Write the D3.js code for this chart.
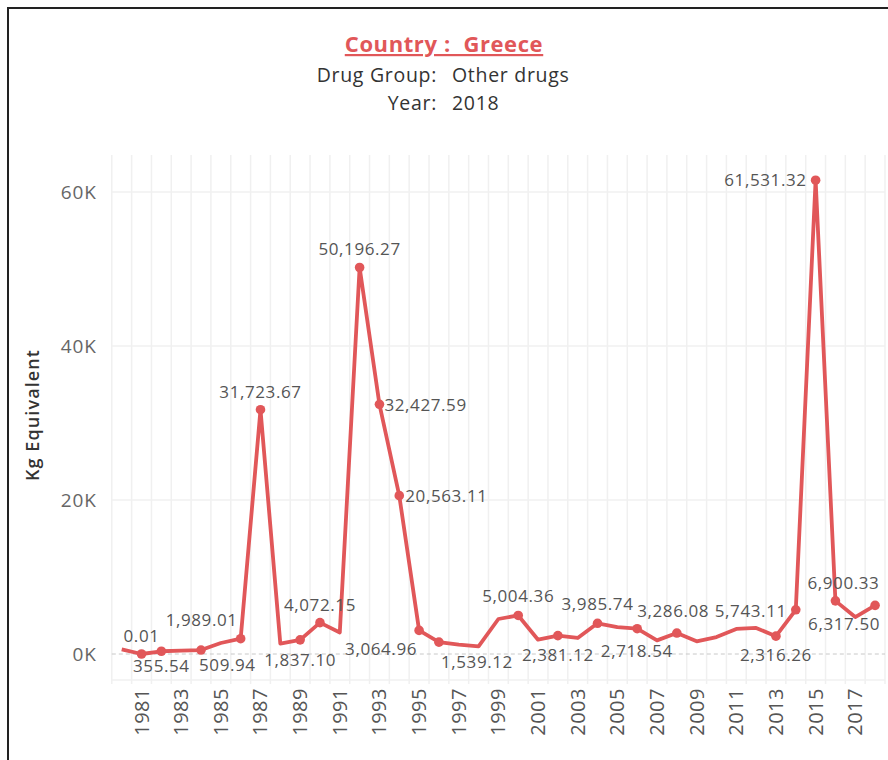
<!DOCTYPE html>
<html>
<head>
<meta charset="utf-8">
<script src="https://cdn.jsdelivr.net/npm/d3@7/dist/d3.min.js"></script>
<style>
  body { margin: 0; background: #fff; }
  svg { display: block; font-family: "Open Sans", "Noto Sans", sans-serif; }
</style>
</head>
<body>
<svg id="chart" width="888" height="760"></svg>
<script>
// data
var years = d3.range(1980, 2019);
var values = [600, 0.01, 355.54, 430, 509.94, 1430, 1989.01, 31723.67, 1340, 1837.10,
  4072.15, 2800, 50196.27, 32427.59, 20563.11, 3064.96, 1539.12, 1210, 990, 4545,
  5004.36, 1860, 2381.12, 2080, 3985.74, 3500, 3286.08, 1770, 2718.54, 1640,
  2200, 3250, 3380, 2316.26, 5743.11, 61531.32, 6900.33, 4800, 6317.50];
var yTicks = [0, 20000, 40000, 60000];
var xTickYears = d3.range(1981, 2018, 2);
var labelledYears = [1981, 1982, 1984, 1986, 1987, 1989, 1990, 1992, 1993, 1994, 1995,
  1996, 2000, 2002, 2004, 2006, 2008, 2013, 2014, 2015, 2016, 2018];

// where each value label sits round its dot: [anchor, dx, dy]
var labelPlace = {
  1981: ["middle", 0, -18], 1982: ["middle", 0, 15], 1984: ["start", -2, 15],
  1986: ["end", -3, -19], 1987: ["middle", 0, -18], 1989: ["middle", 0, 20],
  1990: ["middle", 0, -18], 1992: ["middle", 0, -18], 1993: ["start", 5, 1],
  1994: ["start", 6, 0], 1995: ["end", -2, 19], 1996: ["start", 2, 20],
  2000: ["middle", 0, -19], 2002: ["middle", 0, 19], 2004: ["middle", 0, -19],
  2006: ["start", 0, -18], 2008: ["end", -4, 18], 2013: ["middle", 0, 19],
  2014: ["end", -9, 1], 2015: ["end", -9, 0], 2016: ["middle", 8, -18],
  2018: ["end", 5, 19]
};

var red = "#e15759";
var data = years.map(function(y, i) { return { year: y, value: values[i] }; });

var svg = d3.select("#chart");

// frame
svg.append("rect")
  .attr("x", 8).attr("y", 8).attr("width", 900).attr("height", 800)
  .attr("fill", "none").attr("stroke", "#222").attr("stroke-width", 2);

var x = d3.scaleLinear().domain([1979.5, 2018.5]).range([111.8, 885]);
var y = d3.scaleLinear().domain([0, 60000]).range([654, 192]);
var top_ = 155, bottom = 680;

// grid
var grid = svg.append("g");
grid.selectAll(".vg")
  .data(d3.range(1979.5, 2019, 1))
  .enter().append("line")
  .attr("x1", function(d) { return x(d); }).attr("x2", function(d) { return x(d); })
  .attr("y1", top_).attr("y2", bottom + 4)
  .attr("stroke", "#f0f0f0").attr("stroke-width", 1.5);

grid.append("line")
  .attr("x1", x(1979.5)).attr("x2", x(2018.5))
  .attr("y1", bottom).attr("y2", bottom)
  .attr("stroke", "#f0f0f0").attr("stroke-width", 1.5);

grid.selectAll(".hg")
  .data(yTicks.filter(function(d) { return d > 0; }))
  .enter().append("line")
  .attr("x1", x(1979.5)).attr("x2", x(2018.5))
  .attr("y1", function(d) { return y(d); }).attr("y2", function(d) { return y(d); })
  .attr("stroke", "#f0f0f0").attr("stroke-width", 1.5);

grid.append("line")
  .attr("x1", x(1979.5)).attr("x2", x(2018.5))
  .attr("y1", y(0)).attr("y2", y(0))
  .attr("stroke", "#c8c8c8").attr("stroke-width", 1)
  .attr("stroke-dasharray", "4,3");

// y axis
var yAxis = d3.axisLeft(y)
  .tickValues(yTicks)
  .tickSize(0)
  .tickPadding(0)
  .tickFormat(function(d) { return (d / 1000) + "K"; });

var gy = svg.append("g").attr("transform", "translate(97,0)").call(yAxis);
gy.select(".domain").remove();
gy.selectAll("text")
  .attr("font-family", "'Open Sans', sans-serif")
  .attr("font-size", 19).attr("letter-spacing", 1).attr("fill", "#666");

svg.append("text")
  .attr("transform", "translate(39,415) rotate(-90)")
  .attr("text-anchor", "middle")
  .attr("font-size", 18).attr("font-weight", 600).attr("letter-spacing", 1.1)
  .attr("fill", "#333")
  .text("Kg Equivalent");

// x axis labels
svg.append("g").selectAll("text")
  .data(xTickYears)
  .enter().append("text")
  .attr("transform", function(d) { return "translate(" + x(d) + ",688) rotate(-90)"; })
  .attr("text-anchor", "end")
  .attr("dy", "0.35em")
  .attr("font-size", 20).attr("letter-spacing", 0.5).attr("fill", "#555")
  .text(function(d) { return d; });

// line
var line = d3.line()
  .x(function(d) { return x(d.year); })
  .y(function(d) { return y(d.value); });

svg.append("path")
  .datum(data)
  .attr("d", line)
  .attr("fill", "none")
  .attr("stroke", red)
  .attr("stroke-width", 3.8)
  .attr("stroke-linejoin", "round");

var labelled = data.filter(function(d) { return labelledYears.indexOf(d.year) >= 0; });

svg.selectAll(".dot")
  .data(labelled)
  .enter().append("circle")
  .attr("cx", function(d) { return x(d.year); })
  .attr("cy", function(d) { return y(d.value); })
  .attr("r", 4.8)
  .attr("fill", red);

var fmt = d3.format(",.2f");
svg.selectAll(".lbl")
  .data(labelled)
  .enter().append("text")
  .attr("x", function(d) { return x(d.year) + labelPlace[d.year][1]; })
  .attr("y", function(d) { return y(d.value) + labelPlace[d.year][2]; })
  .attr("dy", "0.35em")
  .attr("text-anchor", function(d) { return labelPlace[d.year][0]; })
  .attr("font-size", 17).attr("letter-spacing", 0.6).attr("fill", "#555")
  .text(function(d) { return fmt(d.value); });

// title block
svg.append("text")
  .attr("x", 444).attr("y", 52)
  .attr("text-anchor", "middle")
  .attr("font-size", 22).attr("font-weight", 700).attr("letter-spacing", 0.6)
  .attr("fill", red)
  .style("text-decoration", "underline")
  .style("white-space", "pre")
  .text("Country :  Greece");

var sub = [["Drug Group:", "Other drugs"], ["Year:", "2018"]];
sub.forEach(function(s, i) {
  svg.append("text")
    .attr("x", 437).attr("y", 82 + i * 28)
    .attr("text-anchor", "end")
    .attr("font-size", 19.5).attr("letter-spacing", 0.7).attr("fill", "#333")
    .text(s[0]);
  svg.append("text")
    .attr("x", 452).attr("y", 82 + i * 28)
    .attr("font-size", 19.5).attr("letter-spacing", 0.7).attr("fill", "#333")
    .text(s[1]);
});
</script>
</body>
</html>
